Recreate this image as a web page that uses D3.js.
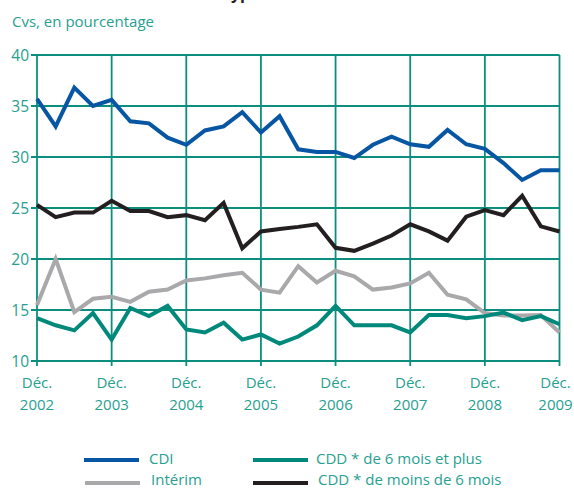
<!DOCTYPE html>
<html><head><meta charset="utf-8">
<script src="https://cdn.jsdelivr.net/npm/d3@7"></script>
<style>
html,body{margin:0;padding:0;background:#fff;}
svg{display:block;font-family:"Open Sans","Noto Sans",sans-serif;}
</style></head>
<body>
<svg id="c" width="574" height="488"></svg>
<script>
// Quarterly data, Dec 2002 -> Dec 2009 (29 points)
const cdi = [35.7,33.0,36.8,35.0,35.6,33.5,33.3,31.9,31.2,32.6,33.0,34.4,32.4,34.0,30.75,30.5,30.5,29.9,31.2,32.0,31.25,31.0,32.65,31.25,30.8,29.4,27.75,28.7,28.7];
const cddMoins6 = [25.3,24.1,24.55,24.55,25.7,24.7,24.7,24.1,24.3,23.8,25.5,21.05,22.7,22.95,23.15,23.4,21.1,20.8,21.5,22.3,23.4,22.7,21.8,24.15,24.8,24.3,26.2,23.2,22.7];
const interim = [15.5,20.0,14.8,16.1,16.3,15.8,16.8,17.0,17.9,18.1,18.4,18.65,17.0,16.7,19.3,17.7,18.85,18.3,17.0,17.2,17.6,18.65,16.5,16.05,14.7,14.45,14.45,14.5,12.8];
const cdd6plus = [14.2,13.5,13.0,14.7,12.1,15.2,14.4,15.4,13.1,12.8,13.75,12.1,12.6,11.7,12.4,13.5,15.4,13.5,13.5,13.5,12.8,14.5,14.5,14.2,14.4,14.75,14.0,14.4,13.6];
const yearLabels = ["2002","2003","2004","2005","2006","2007","2008","2009"];
const yTicks = [10,15,20,25,30,35,40];
const seriesNames = ["CDI","Intérim","CDD * de 6 mois et plus","CDD * de moins de 6 mois"];

const teal = "#0b8e7e", textTeal = "#27a08f";
const colors = {"CDI":"#0756a4","Intérim":"#a9a8aa","CDD * de 6 mois et plus":"#00897a","CDD * de moins de 6 mois":"#231f20"};

const svg = d3.select("#c");
const x = d3.scaleLinear().domain([0,28]).range([37,559.5]);
const y = d3.scaleLinear().domain([10,40]).range([361,55]);

// clipped top title fragment (only descenders visible in reference)
svg.append("text").attr("x",224).attr("y",-1).attr("font-size",16).attr("font-weight","bold").attr("fill","#222").text("type");

svg.append("text").attr("x",12).attr("y",27).attr("font-size",15).attr("fill",textTeal).text("Cvs, en pourcentage");

// horizontal grid
const g = svg.append("g");
g.selectAll("line.h").data(yTicks).join("line")
  .attr("x1",31).attr("x2",x(28)).attr("y1",d=>y(d)).attr("y2",d=>y(d))
  .attr("stroke",teal).attr("stroke-width",1.8);
// vertical grid
g.selectAll("line.v").data(yearLabels).join("line")
  .attr("x1",(d,i)=>x(i*4)).attr("x2",(d,i)=>x(i*4))
  .attr("y1",y(40)).attr("y2",y(10)+5)
  .attr("stroke",teal).attr("stroke-width",1.8);

// y labels
svg.selectAll("text.yl").data(yTicks).join("text")
  .attr("x",29).attr("y",d=>y(d)+5.5).attr("text-anchor","end")
  .attr("font-size",15.5).attr("fill",textTeal).text(d=>d);

// x labels
const xl = svg.selectAll("g.xl").data(yearLabels).join("g")
  .attr("transform",(d,i)=>`translate(${i===7? x(i*4)-4 : x(i*4)},0)`);
xl.append("text").attr("y",388).attr("text-anchor","middle").attr("font-size",15).attr("fill",textTeal).text("Déc.");
xl.append("text").attr("y",410).attr("text-anchor","middle").attr("font-size",15).attr("fill",textTeal).text(d=>d);

const line = d3.line().x((d,i)=>x(i)).y(d=>y(d));
const drawOrder = [["Intérim",interim],["CDD * de 6 mois et plus",cdd6plus],["CDD * de moins de 6 mois",cddMoins6],["CDI",cdi]];
drawOrder.forEach(([n,data])=>{
  svg.append("path").datum(data).attr("d",line).attr("fill","none")
    .attr("stroke",colors[n]).attr("stroke-width",4).attr("stroke-linejoin","miter");
});

// legend
const leg = [
  {n:"CDI",x1:84,y:460,tx:149,ty:464},
  {n:"Intérim",x1:85,y:483,tx:151,ty:485},
  {n:"CDD * de 6 mois et plus",x1:253,y:460,tx:316,ty:464},
  {n:"CDD * de moins de 6 mois",x1:253,y:483,tx:318,ty:485}
];
leg.forEach(l=>{
  svg.append("line").attr("x1",l.x1).attr("x2",l.x1+55).attr("y1",l.y).attr("y2",l.y)
    .attr("stroke",colors[l.n]).attr("stroke-width",4);
  svg.append("text").attr("x",l.tx).attr("y",l.ty).attr("font-size",15).attr("fill",textTeal).text(l.n);
});
</script>
</body></html>
